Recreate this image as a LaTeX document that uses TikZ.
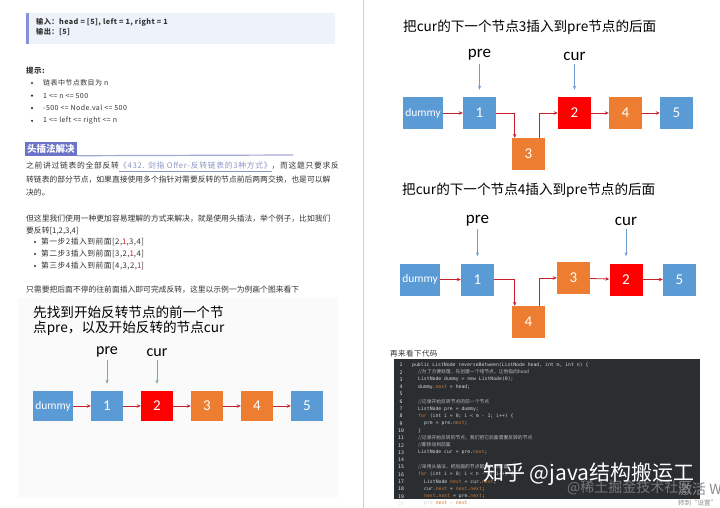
\documentclass[tikz,border=0pt]{standalone}
\usepackage{fontspec}
\setmainfont{Noto Sans CJK SC}
\setmonofont{DejaVu Sans Mono}
\newfontfamily\cali{Carlito}
\newfontfamily\spc[LetterSpace=6]{Noto Sans CJK SC}
\usetikzlibrary{calc}
\usetikzlibrary{positioning}
\usetikzlibrary{arrows.meta}

\definecolor{nodeblue}{HTML}{5B9BD5}
\definecolor{nodeorange}{HTML}{ED7D31}
\definecolor{nodered}{HTML}{FF0000}
\definecolor{linkred}{HTML}{C8202A}
\definecolor{ptrgray}{HTML}{7FA3A8}
\definecolor{ptrblue}{HTML}{6C9BD2}
\definecolor{quotebg}{HTML}{EEF3FB}
\definecolor{quotebar}{HTML}{8A8FD8}
\definecolor{headbg}{HTML}{6B74C9}
\definecolor{headline}{HTML}{A3A8D6}
\definecolor{linkcol}{HTML}{8C97C4}
\definecolor{codebg}{HTML}{2B2E31}
\definecolor{codefg}{HTML}{D0D4D8}
\definecolor{cmtcol}{HTML}{B8BCC0}
\definecolor{kwcol}{HTML}{CC7832}
\definecolor{txtcol}{HTML}{333333}

\newcommand\cmt[1]{{\rmfamily\color{cmtcol}#1}}
\newcommand\kwd[1]{\textcolor{kwcol}{#1}}
\newcommand\fld[1]{\textcolor{kwcol}{#1}}
\newcommand\redone{\textcolor{linkred}{1}}

\begin{document}
\begin{tikzpicture}[x=1pt, y=-1pt,
    box/.style={rectangle, minimum width=33pt, minimum height=32pt, inner sep=0pt, text=white, font=\cali\fontsize{15}{15}\selectfont},
    dbox/.style={box, fill=nodeblue, minimum width=40pt, font=\cali\fontsize{11.5}{12}\selectfont},
    nxt/.style={draw=linkred, line width=0.8pt, -{Stealth[length=4pt, width=3.5pt]}},
    ptr/.style={draw=ptrblue, line width=0.6pt, -{Stealth[length=4pt, width=3pt]}, shorten <=3pt, shorten >=7pt},
    lbl/.style={inner sep=0pt, font=\cali\fontsize{17}{17}\selectfont},
    ttl/.style={anchor=west, inner sep=0pt, font=\fontsize{13.6}{16}\selectfont},
    body/.style={anchor=west, inner sep=0pt, text=txtcol, font=\fontsize{7.8}{10}\selectfont},
    small/.style={anchor=west, inner sep=0pt, text=txtcol, font=\spc\fontsize{7}{9}\selectfont},
    codeline/.style={anchor=west, inner sep=0pt, text=codefg, font=\ttfamily\fontsize{4.8}{5}\selectfont},
    lineno/.style={inner sep=0pt, text=codefg!70, font=\ttfamily\fontsize{4.8}{5}\selectfont}]
\useasboundingbox (0,0) rectangle (720,508);
\fill[white] (0,0) rectangle (720,508);
\draw[black!18, line width=1pt] (363,0) -- (363,508);

% example box
\fill[quotebg] (26,13) rectangle (335,44);
\fill[quotebar] (26,13) rectangle (29,44);
\node[small, font=\spc\bfseries\fontsize{7.2}{8}\selectfont] (in) at (36,22) {输入：head = [5], left = 1, right = 1};
\node[small, font=\spc\bfseries\fontsize{7.2}{8}\selectfont] (out) at (36,32) {输出：[5]};

% hints
\node[small, font=\spc\bfseries\fontsize{7.5}{9}\selectfont] (tip) at (26,71) {提示:};
\foreach \t [count=\i] in {链表中节点数目为 n, 1 <= n <= 500, -500 <= Node.val <= 500, 1 <= left <= right <= n}
{
    \fill[txtcol] (32,{83+12.6*(\i-1)}) circle (1.2);
    \node[small] (tip\i) at (43,{83+12.6*(\i-1)}) {\t};
}

% heading
\node[anchor=west, fill=headbg, text=white, inner sep=2pt, font=\bfseries\fontsize{9.5}{11}\selectfont] (head) at (25,149) {头插法解决};
\coordinate (hl) at (293,155);
\draw[headline, line width=1.2pt] (head.south east) -- (hl);

% text
\node[body, font=\fontsize{7.8}{10}\selectfont\addfontfeatures{LetterSpace=9}] (p1) at (26,167) {之前讲过链表的全部反转\textcolor{linkcol}{\underline{《432. 剑指 Offer-反转链表的3种方式》}}，而这题只要求反};
\node[body] (p2) at (26,180) {转链表的部分节点，如果直接使用多个指针对需要反转的节点前后两两交换，也是可以解};
\node[body] (p3) at (26,193) {决的。};
\node[body] (p4) at (26,219) {但这里我们使用一种更加容易理解的方式来解决，就是使用头插法，举个例子，比如我们};
\node[body] (p5) at (26,231) {要反转[1,2,3,4]};
\foreach \t [count=\i] in {{第一步2插入到前面[2,\redone,3,4]}, {第二步3插入到前面[3,2,\redone,4]}, {第三步4插入到前面[4,3,2,\redone]}}
{
    \fill[txtcol] (35,{242+12*(\i-1)}) circle (1.2);
    \node[small, font=\spc\fontsize{7.8}{9}\selectfont] (step\i) at (41,{242+12*(\i-1)}) {\t};
}
\node[body] (p6) at (26,290) {只需要把后面不停的往前面插入即可完成反转，这里以示例一为例画个图来看下};

% picture 1
\fill[black!2] (18,298) rectangle (338,498);
\node[ttl] (t1a) at (33,312) {先找到开始反转节点的前一个节};
\node[ttl] (t1b) at (33,328) {点pre，以及开始反转的节点cur};
\node[dbox, minimum height=30pt] (a0) at (53,406) {dummy};
\foreach \c [count=\i] in {nodeblue, nodered, nodeorange, nodeorange, nodeblue}
    \node[box, fill=\c, minimum width=32pt, minimum height=30pt] (a\i) at ({107+50*(\i-1)},406) {\i};
\foreach \i [count=\j from 0] in {1,...,5}
    \draw[nxt] (a\j) -- (a\i);
\node[lbl, above=34pt of a1, font=\cali\fontsize{16}{16}\selectfont] (pa) {pre};
\node[lbl, above=34pt of a2, font=\cali\fontsize{16}{16}\selectfont] (ca) {cur};
\draw[ptr, draw=ptrgray] (pa) -- (a1);
\draw[ptr, draw=ptrgray] (ca) -- (a2);

% picture 2
\node[ttl] (t2) at (403,27) {把cur的下一个节点3插入到pre节点的后面};
\node[dbox] (b0) at (423,113) {dummy};
\node[box, fill=nodeblue] (b1) at (479.5,113) {1};
\node[box, fill=nodeorange] (b3) at (528.5,154) {3};
\node[box, fill=nodered] (b2) at (574.5,113) {2};
\node[box, fill=nodeorange] (b4) at (625.5,113) {4};
\node[box, fill=nodeblue] (b5) at (676.5,113) {5};
\draw[nxt] (b0) -- (b1);
\draw[nxt] (b1.east) -| ([xshift=3pt]b3.north west);
\draw[nxt] ([xshift=-6pt]b3.north east) |- (b2.west);
\draw[nxt] (b2) -- (b4);
\draw[nxt] (b4) -- (b5);
\node[lbl, above=36pt of b1] (pb) {pre};
\node[lbl, above=36pt of b2] (cb) {cur};
\draw[ptr] (pb) -- (b1);
\draw[ptr] (cb) -- (b2);

% picture 3
\node[ttl] (t3) at (402,190) {把cur的下一个节点4插入到pre节点的后面};
\node[dbox] (c0) at (420,279.5) {dummy};
\node[box, fill=nodeblue] (c1) at (477.5,279.5) {1};
\node[box, fill=nodeorange] (c4) at (528.5,322) {4};
\node[box, fill=nodeorange] (c3) at (573.5,278) {3};
\node[box, fill=nodered] (c2) at (626,279.5) {2};
\node[box, fill=nodeblue] (c5) at (679.5,279.5) {5};
\draw[nxt] (c0) -- (c1);
\draw[nxt] (c1.east) -| ([xshift=3pt]c4.north west);
\draw[nxt] ([xshift=-6pt]c4.north east) |- (c3.west);
\draw[nxt] (c3) -- (c2);
\draw[nxt] (c2) -- (c5);
\node[lbl, above=37pt of c1] (pc) {pre};
\node[lbl, above=37pt of c2] (cc) {cur};
\draw[ptr] (pc) -- (c1);
\draw[ptr] (cc) -- (c2);

% code
\node[small, font=\spc\fontsize{7.5}{9}\selectfont] (codehead) at (390,354) {再来看下代码};
\fill[codebg] (394,359) rectangle (700,499);
\begin{scope}
\clip (394,359) rectangle (700,508);
\foreach \n in {1,...,20}
    \node[lineno] (ln\n) at (401,{365+7.3*(\n-1)}) {\n};
\foreach \ind/\txt [count=\n] in {
    0/{public ListNode reverseBetween(ListNode head, int m, int n) \{},
    1/{\cmt{//为了方便处理，先创建一个哑节点，让他指向head}},
    1/{ListNode dummy = new ListNode(0);},
    1/{dummy.\fld{next} = head;},
    0/{},
    1/{\cmt{//记录开始反转节点的前一个节点}},
    1/{ListNode pre = dummy;},
    1/{\kwd{for} (int i = 0; i < m - 1; i++) \{},
    2/{pre = pre.\fld{next};},
    1/{\}},
    1/{\cmt{//记录开始反转的节点，我们把它后面需要反转的节点}},
    1/{\cmt{//都移动到前面}},
    1/{ListNode cur = pre.\fld{next};},
    0/{},
    1/{\cmt{//采用头插法，把后面的节点都插入到前面}},
    1/{\kwd{for} (int i = 0; i < n - m; i++) \{},
    2/{ListNode \fld{next} = cur.\fld{next};},
    2/{cur.\fld{next} = \fld{next}.\fld{next};},
    2/{\fld{next}.\fld{next} = pre.\fld{next};},
    2/{pre.\fld{next} = \fld{next};}}
    \node[codeline] (cl\n) at ({412+6*\ind},{365+7.3*(\n-1)}) {\txt};
\end{scope}

% watermarks
\begin{scope}
\clip (0,0) rectangle (720,508);
\node[anchor=west, inner sep=0pt, text=white, opacity=0.35, font=\fontsize{14}{14}\selectfont] (wm2) at (567,488) {@稀土掘金技术社区};
\node[anchor=west, inner sep=0pt, text=white, font=\fontsize{21}{21}\selectfont] (wm1) at (483,474) {知乎 @java结构搬运工};
\node[anchor=west, inner sep=0pt, text=black!45, font=\fontsize{14}{14}\selectfont] (act1) at (678,489) {激活 Wi};
\node[anchor=west, inner sep=0pt, text=black!45, font=\fontsize{6.5}{7}\selectfont] (act2) at (678,503) {转到“设置”};
\end{scope}
\end{tikzpicture}
\end{document}
